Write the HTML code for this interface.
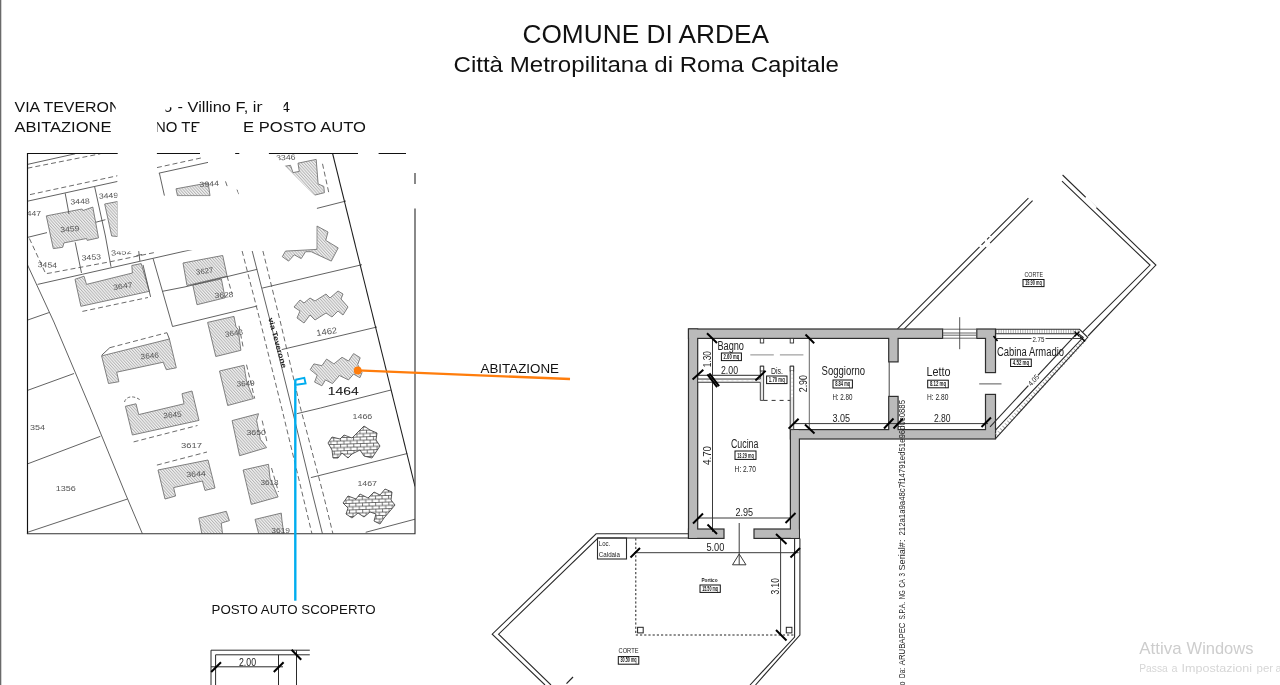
<!DOCTYPE html>
<html lang="it">
<head>
<meta charset="utf-8">
<title>Comune di Ardea - Planimetria</title>
<style>
html,body{margin:0;padding:0;background:#fff;overflow:hidden}
body{width:1280px;height:685px;position:relative;font-family:"Liberation Sans",sans-serif}
svg{position:absolute;left:0;top:0;display:block}
text{font-family:"Liberation Sans",sans-serif}
svg{will-change:transform}
.cad{fill:#222;font-family:"Liberation Sans",sans-serif}
.thin{stroke:#333;stroke-width:1;fill:none}
.wall{fill:#bababa;stroke:#3c3c3c;stroke-width:1}
.tick{stroke:#000;stroke-width:2;fill:none}
.mq{fill:#fff;stroke:#111;stroke-width:1}
</style>
</head>
<body>
<svg width="1280" height="685" viewBox="0 0 1280 685">
<rect x="0" y="0" width="1280" height="685" fill="#fff"/>
<rect x="0" y="0" width="1.3" height="685" fill="#6a6a6a"/>
<!-- titles -->
<g fill="#111">
<text x="522.5" y="42.6" font-size="25" textLength="246.5" lengthAdjust="spacingAndGlyphs">COMUNE DI ARDEA</text>
<text x="453.5" y="71.6" font-size="22.8" textLength="385.5" lengthAdjust="spacingAndGlyphs">Città Metropilitana di Roma Capitale</text>
<text x="14.5" y="112" font-size="14.7" textLength="106" lengthAdjust="spacingAndGlyphs">VIA TEVERON</text>
<text x="177.5" y="112" font-size="14.7" textLength="88" lengthAdjust="spacingAndGlyphs">- Villino F, in</text>
<text x="281" y="112" font-size="14.7" textLength="9" lengthAdjust="spacingAndGlyphs">4</text>
<text x="14.5" y="132" font-size="14.7" textLength="97" lengthAdjust="spacingAndGlyphs">ABITAZIONE</text>
<text x="155" y="132" font-size="14.7" textLength="45.5" lengthAdjust="spacingAndGlyphs">NO TE</text>
<text x="243" y="132" font-size="14.7" textLength="123" lengthAdjust="spacingAndGlyphs">E POSTO AUTO</text>
<text x="163.6" y="112" font-size="14.7" textLength="8.6" lengthAdjust="spacingAndGlyphs">5</text>
<g fill="#fff">
<rect x="115.7" y="99" width="6" height="15"/>
<rect x="262.3" y="99" width="7" height="15"/>
<rect x="278" y="99" width="5.6" height="15"/>
<rect x="152" y="119" width="5.2" height="15"/>
<rect x="196.3" y="125.5" width="6" height="8"/>
<rect x="160" y="98" width="14" height="9.3"/>
<rect x="160" y="106" width="5.5" height="8"/>
</g>
<text x="480.5" y="373" font-size="13.3" textLength="78.5" lengthAdjust="spacingAndGlyphs">ABITAZIONE</text>
<text x="211.5" y="613.7" font-size="13.3" textLength="164" lengthAdjust="spacingAndGlyphs">POSTO AUTO SCOPERTO</text>
</g>
<g font-size="16.2" fill="#cdcdcd">
<text x="1139.3" y="654" textLength="42.3" lengthAdjust="spacingAndGlyphs">Attiva</text>
<text x="1186.6" y="654" textLength="66.8" lengthAdjust="spacingAndGlyphs">Windows</text>
</g>
<g font-size="11.8" fill="#d6d6d6">
<text x="1139.3" y="671.5" textLength="28.4" lengthAdjust="spacingAndGlyphs">Passa</text>
<text x="1171.6" y="671.5" textLength="6" lengthAdjust="spacingAndGlyphs">a</text>
<text x="1181.6" y="671.5" textLength="70.4" lengthAdjust="spacingAndGlyphs">Impostazioni</text>
<text x="1256.6" y="671.5" textLength="16.6" lengthAdjust="spacingAndGlyphs">per</text>
<text x="1275.4" y="671.5" textLength="6" lengthAdjust="spacingAndGlyphs">a</text>
</g>
<!-- cadastral map -->
<defs>
<pattern id="hatch" width="2.2" height="2.2" patternUnits="userSpaceOnUse" patternTransform="rotate(-42)">
<rect width="2.2" height="2.2" fill="#f0f0f0"/><rect width="0.95" height="2.2" fill="#b4b4b4"/>
</pattern>
<pattern id="brick" width="6.6" height="6.6" patternUnits="userSpaceOnUse" patternTransform="rotate(-2)">
<rect width="6.6" height="6.6" fill="#fff"/>
<path d="M0 0.5H6.6M0 3.8H6.6M1.5 0.5V3.8M4.8 3.8V6.6M4.8 0V0.5" stroke="#2a2a2a" stroke-width="0.65" fill="none"/>
</pattern>
<clipPath id="mapclip"><rect x="27.5" y="153.5" width="387.5" height="380"/></clipPath>
</defs>
<style>
.b{fill:url(#hatch);stroke:#747474;stroke-width:0.9}
.bk{fill:url(#brick);stroke:#333;stroke-width:0.8}
.pl{stroke:#505050;stroke-width:0.9;fill:none}
.pd{stroke:#5a5a5a;stroke-width:0.9;fill:none;stroke-dasharray:5 3}
.pn{fill:#555;font-size:7.5px}
</style>
<g clip-path="url(#mapclip)">
<polygon class="b" points="46.3,215.9 82.1,209.0 82.8,210.6 92.8,207.1 98.5,237.9 87.2,240.4 86.5,238.5 63.9,242.9 62.7,247.3 53.3,248.6"/>
<polygon class="b" points="104.7,204.0 117.7,201.5 117.7,236.5 111.7,236.0"/>
<polygon class="b" points="176.0,188.8 208.2,182.9 210.0,195.8 177.5,195.8"/>
<polygon class="b" points="183.0,263.0 222.7,255.5 227.1,276.2 187.0,285.5"/>
<polygon class="b" points="192.8,285.0 221.4,279.0 225.0,297.8 197.0,304.7"/>
<polygon class="b" points="75.0,279.3 84.0,276.2 86.5,284.4 132.4,273.0 131.8,265.5 141.2,263.6 149.3,291.3 80.9,306.3"/>
<polygon class="b" points="101.6,355.9 169.4,339.0 176.3,367.8 166.3,369.7 163.2,362.2 116.7,372.2 118.9,381.7 108.5,383.5"/>
<polygon class="b" points="207.6,322.4 234.0,316.4 236.0,327.0 238.0,329.0 240.9,350.3 215.8,356.5"/>
<polygon class="b" points="219.5,371.0 244.0,365.3 245.3,373.5 246.5,381.0 253.4,398.6 227.7,405.5"/>
<polygon class="b" points="125.4,406.3 136.0,403.8 138.7,414.6 184.0,403.8 182.0,393.7 192.0,391.0 199.0,420.4 132.4,435.0"/>
<polygon class="b" points="232.1,420.6 258.5,413.7 256.6,420.6 260.4,439.4 266.6,447.6 239.6,455.7"/>
<polygon class="b" points="158.0,470.0 208.0,460.0 215.0,488.0 205.0,490.4 202.4,481.0 173.6,487.6 175.6,496.0 165.0,499.0"/>
<polygon class="b" points="243.1,470.0 268.5,464.3 270.0,478.0 278.1,496.9 251.3,504.4"/>
<polygon class="b" points="198.8,518.1 226.3,511.3 229.4,520.6 221.3,523.1 222.5,534.0 201.9,534.0"/>
<polygon class="b" points="255.0,519.4 281.3,513.1 281.9,520.0 283.8,534.0 258.8,534.0"/>
<polygon class="b" points="284.8,166.3 290.5,165.3 293.0,172.6 299.3,171.4 298.0,163.2 316.2,159.4 318.1,183.9 323.8,186.4 324.4,192.7 314.4,195.2"/>
<polygon class="b" points="316.9,226.0 328.0,232.0 325.7,240.4 338.2,247.9 331.3,261.1 311.2,251.7 305.6,251.7 301.2,258.6 294.3,254.8 288.6,261.1 282.3,256.7 285.5,251.1 316.9,249.4"/>
<polygon class="b" points="294.0,307.0 300.0,300.0 304.0,303.0 310.0,298.0 315.0,301.0 326.0,294.0 330.0,298.0 338.0,291.0 343.0,294.0 341.0,299.0 348.0,307.0 343.0,315.0 338.0,311.0 332.0,317.0 326.0,313.0 315.0,320.0 310.0,315.0 304.0,323.0 297.0,318.0 300.0,311.0"/>
<polygon class="b" points="310.2,369.6 313.9,363.9 321.9,365.7 326.6,359.1 333.9,363.9 342.0,357.3 348.5,361.0 353.6,353.6 360.2,357.7 357.7,364.6 362.0,372.6 359.9,377.7 353.6,374.1 348.5,379.9 339.4,375.5 332.5,383.6 325.5,379.9 321.9,385.8 314.6,382.1 317.2,375.2 313.9,372.6"/>
<polygon class="bk" points="328.0,443.0 332.0,437.0 340.0,439.0 344.0,435.0 352.0,438.0 358.0,432.0 364.0,426.0 370.0,430.0 377.0,433.0 376.0,440.0 380.0,446.0 376.0,452.0 372.0,458.0 364.0,456.0 360.0,450.0 352.0,454.0 348.0,458.0 342.0,453.0 338.0,458.0 333.0,458.0 332.0,450.0"/>
<polygon class="bk" points="343.0,503.0 348.0,496.0 356.0,499.0 360.0,494.0 368.0,498.0 374.0,492.0 380.0,495.0 385.0,489.0 392.0,492.0 391.0,500.0 395.0,505.0 390.0,511.0 384.0,518.0 380.0,524.0 374.0,521.0 376.0,514.0 370.0,512.0 364.0,517.0 358.0,513.0 352.0,518.0 346.0,514.0 348.0,508.0"/>
<!-- parcel lines -->
<g class="pl">
<path d="M27.5 164.4L75.2 153.8"/>
<path d="M27.5 201.2L117.7 181.4"/>
<path d="M65.2 193.3L69 214"/>
<path d="M94.7 187L105.4 236L111 266.8"/>
<path d="M96 222.2L105.4 219.7"/>
<path d="M158.8 173.2L208 162.4M159.4 173.2L164.4 195.6"/>
<path d="M27.5 237.4L47 232.6"/>
<path d="M37.6 284.4L185 251.1L196 248.8"/>
<path d="M27.5 264.9L53.9 322L90.3 408L125.5 494L142.5 534"/>
<path d="M75.2 242.3L81.5 273"/>
<path d="M138.7 251L139.9 261M136.5 255.6L142 254.5"/>
<path d="M153.1 258.6L171.3 322L172.5 326.5L257.2 306"/>
<path d="M162.5 291.3L185 286.9L257.2 269.3"/>
<path d="M27.5 320.1L48.9 312.6"/>
<path d="M27.5 390.4L74 373.5"/>
<path d="M27.5 463.9L100.4 436.3"/>
<path d="M27.5 532.3L127.5 499"/>
<path d="M252.2 251L270.4 322L291.8 408L312.5 494L322.5 534"/>
<path d="M316.9 208.4L346 201"/>
<path d="M262.2 288.1L345 268.7L362 264.7"/>
<path d="M281.7 349.6L345 334.6L377 327"/>
<path d="M296.8 413.7L320.6 408L391 390"/>
<path d="M310.9 477.6L407.3 453.5"/>
<path d="M365.7 532.3L415 519.2"/>
<path d="M101.6 355.3L109.8 347.7M166.9 332.7L169.4 339"/>
<path d="M143 264.9L150.6 296.9"/>
<path d="M332.6 153.5L415 486.4" stroke="#1c1c1c" stroke-width="1.05"/>
<path d="M407.3 453.5L415 486.4L415 440" stroke="none"/>
</g>
<g class="pd">
<path d="M27.5 168.2L100.4 153.8"/>
<path d="M30 194.6L117.7 175.7"/>
<path d="M156.9 167.6L203.2 157.5"/>
<path d="M29.4 238.5L45.7 273.7L50.1 273L110.4 261.7L155.6 252.3"/>
<path d="M82.4 311.4L148 297.5"/>
<path d="M109.8 347.7L166.9 332.7"/>
<path d="M133.6 441.9L185 428.7L197.5 425.5"/>
<path d="M156.9 465.1L207 452"/>
<path d="M242.1 251L260.4 322L281.7 408L302.4 494L312 534"/>
<path d="M262.9 251L280.4 322L300.5 408L323.2 494L333 534"/>
<path d="M227 276L232 293.8M239 325.8L243.4 348.4M246.5 364.7L254.7 398.6M262.2 420.6L267.3 443.2M271.5 468L278.5 492"/>
<path d="M322.5 163.8L328.8 192.7"/>
<path d="M230.2 163.8L235.2 156.3M225.5 181.4L227.7 187.7M237 189.6L239.6 195.8"/>
<path d="M124.5 402C126 396 134 395 141 400.5" stroke-dasharray="3 2"/>
</g>
<!-- parcel numbers -->
<g class="pn">
<text x="70.2" y="204" textLength="19.5" lengthAdjust="spacingAndGlyphs" transform="rotate(-3 80 200)">3448</text>
<text x="98.7" y="198.4" textLength="19.5" lengthAdjust="spacingAndGlyphs" transform="rotate(-3 108 195)">3449</text>
<text x="22" y="216" textLength="19" lengthAdjust="spacingAndGlyphs">3447</text>
<text x="60.2" y="231.6" textLength="19" lengthAdjust="spacingAndGlyphs" transform="rotate(-4 70 228)">3459</text>
<text x="37.6" y="267.4" textLength="19.5" lengthAdjust="spacingAndGlyphs" transform="rotate(3 47 264)">3454</text>
<text x="81.5" y="259.9" textLength="19.5" lengthAdjust="spacingAndGlyphs" transform="rotate(-3 91 256)">3453</text>
<text x="111" y="254.8" textLength="20.5" lengthAdjust="spacingAndGlyphs" transform="rotate(-5 121 251)">3452</text>
<text x="112.9" y="288.7" textLength="19.5" lengthAdjust="spacingAndGlyphs" transform="rotate(-8 122 285)">3647</text>
<text x="199.4" y="186.4" textLength="19.6" lengthAdjust="spacingAndGlyphs" transform="rotate(-3 209 183)">3944</text>
<text x="276" y="160" textLength="19.5" lengthAdjust="spacingAndGlyphs" transform="rotate(-3 285 157)">3346</text>
<text x="195.7" y="273.7" textLength="17.6" lengthAdjust="spacingAndGlyphs" transform="rotate(-8 204 270)">3627</text>
<text x="214.5" y="297.5" textLength="18.9" lengthAdjust="spacingAndGlyphs" transform="rotate(-3 224 294)">3628</text>
<text x="140.5" y="358.4" textLength="18.3" lengthAdjust="spacingAndGlyphs" transform="rotate(-5 150 355)">3646</text>
<text x="224.6" y="335.8" textLength="18.2" lengthAdjust="spacingAndGlyphs" transform="rotate(-8 233 332)">3648</text>
<text x="236.5" y="386" textLength="18.2" lengthAdjust="spacingAndGlyphs" transform="rotate(-3 245 383)">3649</text>
<text x="30" y="430" textLength="15" lengthAdjust="spacingAndGlyphs">354</text>
<text x="55.8" y="490.9" textLength="20.1" lengthAdjust="spacingAndGlyphs">1356</text>
<text x="163.2" y="417.5" textLength="18.5" lengthAdjust="spacingAndGlyphs" transform="rotate(-5 172 414)">3645</text>
<text x="181" y="448.2" textLength="21" lengthAdjust="spacingAndGlyphs">3617</text>
<text x="246.5" y="435" textLength="19.5" lengthAdjust="spacingAndGlyphs">3650</text>
<text x="186.3" y="476.4" textLength="19.4" lengthAdjust="spacingAndGlyphs" transform="rotate(-3 196 473)">3644</text>
<text x="260.4" y="484.6" textLength="18.2" lengthAdjust="spacingAndGlyphs">3618</text>
<text x="271.3" y="532.5" textLength="18.7" lengthAdjust="spacingAndGlyphs">3619</text>
<text x="316.2" y="334.6" textLength="20.8" lengthAdjust="spacingAndGlyphs" font-size="8.5" transform="rotate(-9 326 331)">1462</text>
<text x="310" y="339.5" textLength="18" lengthAdjust="spacingAndGlyphs" transform="rotate(-9 318 336)" fill="none">1460</text>
<text x="352.6" y="418.9" textLength="19.7" lengthAdjust="spacingAndGlyphs">1466</text>
<text x="357.4" y="485.9" textLength="19.6" lengthAdjust="spacingAndGlyphs">1467</text>
</g>
<text x="327.8" y="394.6" font-size="10.3" fill="#1a1a1a" stroke="#1a1a1a" stroke-width="0.08" textLength="30.8" lengthAdjust="spacingAndGlyphs">1464</text>
<text transform="translate(268.2 318.5) rotate(74.5)" x="0" y="0" font-size="7.2" font-weight="bold" fill="#222" textLength="52" lengthAdjust="spacingAndGlyphs">via Teverone</text>

</g>
<!-- white redactions -->
<g fill="#fff">
<rect x="117.5" y="150" width="39.3" height="50"/>
<polygon points="117.5,196.2 239.5,196.2 237,187 229,175 219.5,166.5 223,160 236,153 239.4,150 269,150 316.3,197 316.3,248 117.5,251.6"/>
<rect x="199.8" y="150" width="35.8" height="5.5"/>
</g>
<!-- map frame -->
<g stroke="#111" stroke-width="1.15" fill="none">
<path d="M27.5 534V153.5H117.7M156.9 153.5H200M235.2 153.5H239.3M268.9 153.5H358M378.6 153.5H406"/>
<path d="M415 173V184M415 208.6V533.7H26.9" stroke="#333"/>
</g>
<!-- annotations -->
<path d="M357.7 370.4L570 379" stroke="#ff7d0c" stroke-width="2.3" fill="none"/>
<circle cx="357.7" cy="370.5" r="3.9" fill="#ff7d0c"/>
<path d="M295.3 379.4V600.7" stroke="#00adef" stroke-width="2.4" fill="none"/>
<path d="M295.5 379.8L304.3 377.9L305.6 383.5L296.2 384.8" stroke="#00adef" stroke-width="1.9" fill="none"/>

<!-- floor plan walls -->
<g fill="none" stroke="#2e2e2e" stroke-width="2.4" stroke-linejoin="miter">
<rect x="689.1" y="329.6" width="252.9" height="8.2"/>
<rect x="977.4" y="329.6" width="17.5" height="8.2"/>
<rect x="689.1" y="329.6" width="8.0" height="208.2"/>
<rect x="689.1" y="529.6" width="34.3" height="8.2"/>
<rect x="754.6" y="529.6" width="44.2" height="8.2"/>
<rect x="791.0" y="430.2" width="7.8" height="107.6"/>
<rect x="791.0" y="430.2" width="203.9" height="8.2"/>
<rect x="889.3" y="336.6" width="8.2" height="24.7"/>
<rect x="889.3" y="397.0" width="8.2" height="34.4"/>
<rect x="986.1" y="336.6" width="8.8" height="35.4"/>
<rect x="986.1" y="395.0" width="8.8" height="36.4"/>
</g>
<g fill="#bababa" stroke="none">
<rect x="689.1" y="329.6" width="252.9" height="8.2"/>
<rect x="977.4" y="329.6" width="17.5" height="8.2"/>
<rect x="689.1" y="329.6" width="8.0" height="208.2"/>
<rect x="689.1" y="529.6" width="34.3" height="8.2"/>
<rect x="754.6" y="529.6" width="44.2" height="8.2"/>
<rect x="791.0" y="430.2" width="7.8" height="107.6"/>
<rect x="791.0" y="430.2" width="203.9" height="8.2"/>
<rect x="889.3" y="336.6" width="8.2" height="24.7"/>
<rect x="889.3" y="397.0" width="8.2" height="34.4"/>
<rect x="986.1" y="336.6" width="8.8" height="35.4"/>
<rect x="986.1" y="395.0" width="8.8" height="36.4"/>
</g>
<!-- window in Letto top wall -->
<g stroke="#555" stroke-width="0.9" fill="none">
<path d="M942.6 329.2H976.8M942.6 338.2H976.8M942.6 333H976.8M942.6 335.2H976.8"/>
<path d="M959.7 317.2V349.2" stroke="#444"/>
<path d="M979.2 383.9H1001.5" stroke="#444"/>
</g>
<!-- thin door/opening lines -->
<g stroke="#444" stroke-width="1" fill="none">
<path d="M889.2 361.9V396.4"/>
</g>
<!-- CORTE upper: double lines -->
<g stroke="#2a2a2a" stroke-width="1.1" fill="none">
<path d="M897.5 328.8L1028.4 198.1"/>
<path d="M904.4 328.8L1032.6 200.6"/>
<path d="M1062.6 175L1155.9 265.1L1088 336"/>
<path d="M1062 181.2L1150 265.1L1082.6 332.2"/>
</g>
<g stroke="#fff" stroke-width="2.4" fill="none">
<path d="M1085.8 197.2L1096 208"/>
<path d="M979.5 246.8L981.5 244.8M984.8 241.5L987 239.3M989.2 237L990.5 235.8"/>
<path d="M986 246.8L990 243"/>
</g>
<path d="M573 677L566.5 683.7" stroke="#222" stroke-width="1.2" fill="none"/>
<!-- Cabina armadio thin hatched walls -->
<path d="M996 331.4H1079" stroke="#a8a8a8" stroke-width="3.6" stroke-dasharray="0.9 1.5" fill="none"/>
<path d="M1085 339.5L996.5 435.2" stroke="#a8a8a8" stroke-width="4" stroke-dasharray="0.9 2.6" fill="none"/>
<g stroke="#2c2c2c" stroke-width="1.1" fill="none">
<path d="M995.5 329.3H1079.5L1087.7 337.3L995.5 438.7"/>
<path d="M995.5 333.7H1078.5L1083.2 337.3L995.5 430.1"/>
<path d="M990 426.8L1076.8 333.7"/>
<path d="M1074.5 331.5L1079.5 336.5M1079.5 331.5L1074.5 336.5M1080 336.5L1085 341.5" stroke-width="1.4" stroke="#000"/>
<path d="M993.5 336L997.5 341" stroke-width="1.6" stroke="#000"/>
</g>
<!-- lower CORTE double lines -->
<g stroke="#2a2a2a" stroke-width="1.1" fill="none">
<path d="M688.5 533.8H596.1L492.2 634.2L545 685"/>
<path d="M688.5 538H598L498.6 634.2L551 685"/>
<path d="M799.9 538.4V635L755.5 685"/>
<path d="M794.6 538.4V637L750 685"/>
<path d="M660 534H688.5M660 538H688.5" stroke="none"/>
<rect x="597.5" y="538" width="29" height="21"/>
</g>
<!-- Portico dashed -->
<path d="M635.8 538.4V635H794.6" stroke="#222" stroke-width="1" stroke-dasharray="2.2 2" fill="none"/>
<g stroke="#222" stroke-width="1" fill="#fff">
<rect x="637.6" y="627.3" width="5.6" height="5.6"/>
<rect x="786.3" y="627.3" width="5.6" height="5.6"/>
</g>
<!-- dimension lines -->
<g stroke="#3a3a3a" stroke-width="1" fill="none">
<path d="M712.5 338.4V532"/>
<path d="M809.3 338.4V429.6" stroke="#666"/>
<path d="M697.7 375.4H763.6" stroke="#555" stroke-width="1.4"/>
<path d="M793 423.6H988"/>
<path d="M697.7 518H790.4"/>
<path d="M634 552.7H798.6"/>
<path d="M780.6 538.4V635"/>
<path d="M739.2 523V554"/>
<path d="M739.2 554L732.5 564.8H746Z M739.2 554V564.8"/>
<path d="M995.5 338.5H1082"/>
</g>
<!-- Bagno thin walls -->
<g stroke="#333" stroke-width="0.9" fill="#e6e6e6">
<path d="M697.7 379H760.3V366.2H763.6V400.4H760.3V382.3H697.7Z"/>
<path d="M790.2 366.2H793.7V429.6H790.2Z"/>
<rect x="760.3" y="338.4" width="3.4" height="4.6" fill="#fff"/>
<rect x="790.2" y="338.4" width="3.4" height="4.6" fill="#fff"/>
<rect x="760.3" y="366.2" width="3.4" height="4.8" fill="#fff"/>
<rect x="790.2" y="366.2" width="3.4" height="4.8" fill="#fff"/>
</g>
<path d="M763.6 400.4H790.2" stroke="#333" stroke-width="1" stroke-dasharray="4 4" fill="none"/>
<path d="M750.3 354.9H773.8M779.9 354.9H803.4" stroke="#8a8a8a" stroke-width="1" fill="none"/>
<path d="M698.5 380.6H760" stroke="#fff" stroke-width="1" stroke-dasharray="3 2" fill="none"/>
<path d="M792 371V397" stroke="#fff" stroke-width="2" stroke-dasharray="2.5 1.5" fill="none"/>
<!-- ticks -->
<g class="tick">
<path d="M707 333.3L717 343"/>
<path d="M805.5 334.5L814.2 343.2"/>
<path d="M692.6 379.5L703.3 369.7"/>
<path d="M707.4 374.3L717.1 387.1M709.4 373.3L719.1 386.1" />
<path d="M755.4 380.5L765.6 370.8"/>
<path d="M788.6 428.6L798.6 418.8"/>
<path d="M805 424.5L814.5 433.5"/>
<path d="M884 428.5L893.5 418.5"/>
<path d="M893.5 428.5L903 418.5"/>
<path d="M981.5 427L991 417.5"/>
<path d="M693 523.5L703 513.5"/>
<path d="M707.5 524.5L717 534"/>
<path d="M785.5 523L795.5 513"/>
<path d="M776 534L786.5 544"/>
<path d="M790.5 557.5L800 548"/>
<path d="M630.5 557.5L640 548"/>
<path d="M776 630L786.5 640.5"/>
</g>
<!-- bottom-left parking detail -->
<g stroke="#2a2a2a" stroke-width="1" fill="none">
<path d="M211 685V650.2H309.8"/>
<path d="M215.6 685V654.8H309.8"/>
<path d="M278.5 654.8V685"/>
<path d="M296.5 650.2V685"/>
<path d="M211 666.8H283"/>
</g>
<g class="tick">
<path d="M211.2 672L221 662.2"/>
<path d="M273.8 672L283.6 662.2"/>
<path d="M291.6 649.8L301.2 659.8"/>
</g>
<!-- digital signature text (vertical) -->
<g transform="translate(905 690) rotate(-90)" font-size="8.3" fill="#1e1e1e">
<text x="4.5" y="0" textLength="4.0" lengthAdjust="spacingAndGlyphs">o</text>
<text x="12.0" y="0" textLength="10.0" lengthAdjust="spacingAndGlyphs">Da:</text>
<text x="24.8" y="0" textLength="42.6" lengthAdjust="spacingAndGlyphs">ARUBAPEC</text>
<text x="70.4" y="0" textLength="17.6" lengthAdjust="spacingAndGlyphs">S.P.A.</text>
<text x="90.7" y="0" textLength="8.9" lengthAdjust="spacingAndGlyphs">NG</text>
<text x="102.4" y="0" textLength="8.4" lengthAdjust="spacingAndGlyphs">CA</text>
<text x="113.6" y="0" textLength="3.5" lengthAdjust="spacingAndGlyphs">3</text>
<text x="119.5" y="0" textLength="31.0" lengthAdjust="spacingAndGlyphs">Serial#:</text>
<text x="154.5" y="0" textLength="135.5" lengthAdjust="spacingAndGlyphs">212a1a9a48c7f14791ed51e96d0c0885</text>
</g>

<g class="cad">
<text x="717.4" y="350.0" font-size="12.3" textLength="26.6" lengthAdjust="spacingAndGlyphs">Bagno</text>
<text x="721.0" y="373.6" font-size="11" textLength="17.0" lengthAdjust="spacingAndGlyphs">2.00</text>
<text transform="translate(711.0 367.3) rotate(-90)" x="0" y="0" font-size="11" textLength="16.3" lengthAdjust="spacingAndGlyphs">1.30</text>
<text x="771.0" y="373.6" font-size="9" textLength="12.0" lengthAdjust="spacingAndGlyphs">Dis.</text>
<text transform="translate(807.0 392.3) rotate(-90)" x="0" y="0" font-size="11" textLength="17.3" lengthAdjust="spacingAndGlyphs">2.90</text>
<text x="821.6" y="375.0" font-size="12.3" textLength="43.4" lengthAdjust="spacingAndGlyphs">Soggiorno</text>
<text x="832.4" y="400.0" font-size="8.5" textLength="20.0" lengthAdjust="spacingAndGlyphs">H: 2.80</text>
<text x="832.4" y="421.6" font-size="11" textLength="17.6" lengthAdjust="spacingAndGlyphs">3.05</text>
<text x="731.0" y="447.5" font-size="12.3" textLength="27.4" lengthAdjust="spacingAndGlyphs">Cucina</text>
<text x="734.6" y="471.6" font-size="8.5" textLength="21.4" lengthAdjust="spacingAndGlyphs">H: 2.70</text>
<text x="735.4" y="515.6" font-size="11" textLength="17.6" lengthAdjust="spacingAndGlyphs">2.95</text>
<text transform="translate(711.0 465.0) rotate(-90)" x="0" y="0" font-size="11" textLength="19.0" lengthAdjust="spacingAndGlyphs">4.70</text>
<text x="706.4" y="551.0" font-size="11" textLength="18.0" lengthAdjust="spacingAndGlyphs">5.00</text>
<text transform="translate(779.4 594.5) rotate(-90)" x="0" y="0" font-size="11" textLength="16.4" lengthAdjust="spacingAndGlyphs">3.10</text>
<text x="926.5" y="375.6" font-size="12.3" textLength="24.1" lengthAdjust="spacingAndGlyphs">Letto</text>
<text x="927.0" y="400.4" font-size="8.5" textLength="21.3" lengthAdjust="spacingAndGlyphs">H: 2.80</text>
<text x="933.9" y="421.5" font-size="11" textLength="16.7" lengthAdjust="spacingAndGlyphs">2.80</text>
<text x="996.9" y="355.7" font-size="12.3" textLength="67.1" lengthAdjust="spacingAndGlyphs">Cabina Armadio</text>
<text x="1024.5" y="276.5" font-size="8" textLength="18.5" lengthAdjust="spacingAndGlyphs">CORTE</text>
<text x="618.5" y="652.5" font-size="8" textLength="20.0" lengthAdjust="spacingAndGlyphs">CORTE</text>
<text x="598.8" y="546.4" font-size="8" textLength="11.4" lengthAdjust="spacingAndGlyphs">Loc.</text>
<text x="598.8" y="556.7" font-size="8" textLength="21.1" lengthAdjust="spacingAndGlyphs">Caldaia</text>
<text x="239.0" y="665.6" font-size="11" textLength="17.0" lengthAdjust="spacingAndGlyphs">2.00</text>
</g>
<rect x="1031.5" y="335.5" width="14" height="6.5" fill="#fff"/>
<rect x="-7" y="-4.5" width="14" height="7" fill="#fff" transform="translate(1033.9 381.2) rotate(-47)"/>
<g class="cad">
<text x="1032.4" y="341.7" font-size="7.5" textLength="11.9" lengthAdjust="spacingAndGlyphs">2.75</text>
<text transform="translate(1031.2 386.6) rotate(-47)" x="0" y="0" font-size="7.5" textLength="12.5" lengthAdjust="spacingAndGlyphs">4.05</text>
<text x="701.4" y="581.8" font-size="5.6" textLength="16.2" lengthAdjust="spacingAndGlyphs" font-weight="bold">Portico</text>
</g>
<g class="cad" font-weight="bold">
<rect class="mq" x="721.4" y="353.0" width="20.0" height="7.6"/>
<text x="723.6" y="358.7" font-size="6.4" textLength="15.6" lengthAdjust="spacingAndGlyphs">2.60 mq</text>
<rect class="mq" x="766.6" y="376.0" width="20.4" height="7.6"/>
<text x="768.8" y="381.7" font-size="6.4" textLength="16.0" lengthAdjust="spacingAndGlyphs">1.70 mq</text>
<rect class="mq" x="833.0" y="380.0" width="19.4" height="8.0"/>
<text x="835.2" y="386.1" font-size="6.4" textLength="15.0" lengthAdjust="spacingAndGlyphs">8.84 mq</text>
<rect class="mq" x="735.0" y="451.0" width="21.0" height="8.4"/>
<text x="737.2" y="457.5" font-size="6.4" textLength="16.6" lengthAdjust="spacingAndGlyphs">13.29 mq</text>
<rect class="mq" x="927.7" y="380.2" width="20.6" height="7.6"/>
<text x="929.9" y="385.9" font-size="6.4" textLength="16.2" lengthAdjust="spacingAndGlyphs">8.12 mq</text>
<rect class="mq" x="1010.6" y="359.1" width="20.7" height="7.4"/>
<text x="1012.8" y="364.6" font-size="6.4" textLength="16.3" lengthAdjust="spacingAndGlyphs">4.52 mq</text>
<rect class="mq" x="1023.0" y="279.5" width="21.0" height="7.1"/>
<text x="1025.2" y="284.7" font-size="6.4" textLength="16.6" lengthAdjust="spacingAndGlyphs">19.90 mq</text>
<rect class="mq" x="700.0" y="585.0" width="20.3" height="7.4"/>
<text x="702.2" y="590.5" font-size="6.4" textLength="15.9" lengthAdjust="spacingAndGlyphs">15.50 mq</text>
<rect class="mq" x="618.3" y="656.6" width="20.5" height="7.6"/>
<text x="620.5" y="662.3" font-size="6.4" textLength="16.1" lengthAdjust="spacingAndGlyphs">30.50 mq</text>
</g>
</svg>
</body>
</html>
